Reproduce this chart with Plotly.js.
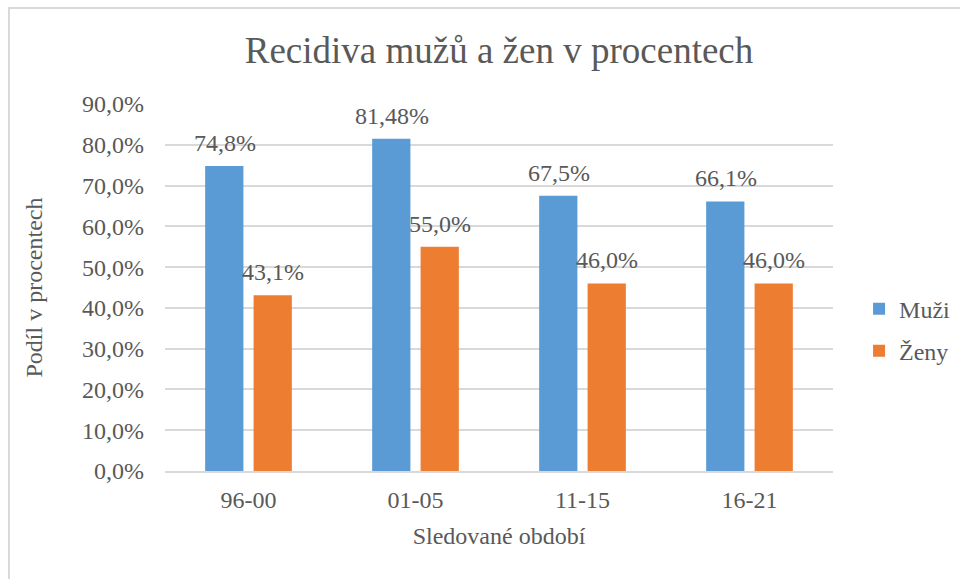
<!DOCTYPE html>
<html>
<head>
<meta charset="utf-8">
<script src="https://cdn.plot.ly/plotly-3.0.1.min.js"></script>
<style>
html,body{margin:0;padding:0;background:#fff;}
#wrap{position:relative;width:960px;height:579px;}
#chart{position:absolute;left:0;top:0;width:960px;height:579px;}
#frame{position:absolute;left:8px;top:7px;width:960px;height:600px;border-top:2px solid #d9d9d9;border-left:2px solid #d9d9d9;pointer-events:none;}
</style>
</head>
<body>
<div id="wrap"><div id="chart"></div><div id="frame"></div></div>
<script>
const categories = ["96-00", "01-05", "11-15", "16-21"];
const muzi = [0.748, 0.8148, 0.675, 0.661];
const zeny = [0.431, 0.55, 0.46, 0.46];
const muziLabels = ["74,8%", "81,48%", "67,5%", "66,1%"];
const zenyLabels = ["43,1%", "55,0%", "46,0%", "46,0%"];
const yTicks = [0, 0.1, 0.2, 0.3, 0.4, 0.5, 0.6, 0.7, 0.8, 0.9];

const font = "Liberation Serif, Times New Roman, serif";
const txt = "#595959";
const fs = 24;

const traces = [
  {type: "bar", name: "Muži", x: categories, y: muzi,
   marker: {color: "#5b9bd5"}, legendgroup: "a", hoverinfo: "skip"},
  {type: "bar", name: "Ženy", x: categories, y: zeny,
   marker: {color: "#ed7d31"}, legendgroup: "b", hoverinfo: "skip"}
];

// data labels above bars, placed on the library's own axes
const annotations = [];
const series = [[muzi, muziLabels, -24], [zeny, zenyLabels, 24]];
series.forEach(([vals, labels, dx]) => {
  categories.forEach((c, j) => {
    annotations.push({x: c, y: vals[j], xref: "x", yref: "y", text: labels[j], showarrow: false,
      xanchor: "center", yanchor: "bottom", xshift: dx, yshift: 8,
      font: {family: font, size: fs, color: txt}});
  });
});

const layout = {
  width: 960, height: 579,
  margin: {l: 165, r: 127, t: 104, b: 108, autoexpand: false},
  paper_bgcolor: "#fff", plot_bgcolor: "#fff",
  separators: ", ",
  font: {family: font, size: fs, color: txt},
  title: {text: "Recidiva mužů a žen v procentech", font: {family: font, size: 37, color: txt},
          x: 0.5, xref: "paper", y: 0.913, yanchor: "middle"},
  barmode: "group", bargap: 0.42, bargroupgap: 0.21,
  xaxis: {type: "category", showgrid: false, showline: true, linecolor: "#d9d9d9", linewidth: 2,
          ticks: "", ticklabelstandoff: 6, tickfont: {family: font, size: fs, color: txt},
          title: {text: "Sledované období", font: {family: font, size: fs, color: txt}, standoff: 15}},
  yaxis: {range: [0, 0.9], tickvals: yTicks, tickformat: ".1%", showgrid: true, gridcolor: "#d9d9d9",
          gridwidth: 2, zeroline: false, showline: false, ticks: "", ticklabelstandoff: 20,
          tickfont: {family: font, size: fs, color: txt},
          title: {text: "Podíl v procentech", font: {family: font, size: fs, color: txt}, standoff: 32}},
  legend: {x: 1.039, xanchor: "left", y: 0.384, yanchor: "middle", tracegroupgap: 8,
           font: {family: font, size: fs, color: txt}, itemwidth: 30, bgcolor: "rgba(0,0,0,0)"},
  annotations: annotations,
  showlegend: true
};

Plotly.newPlot("chart", traces, layout, {staticPlot: true, displayModeBar: false});
</script>
</body>
</html>
